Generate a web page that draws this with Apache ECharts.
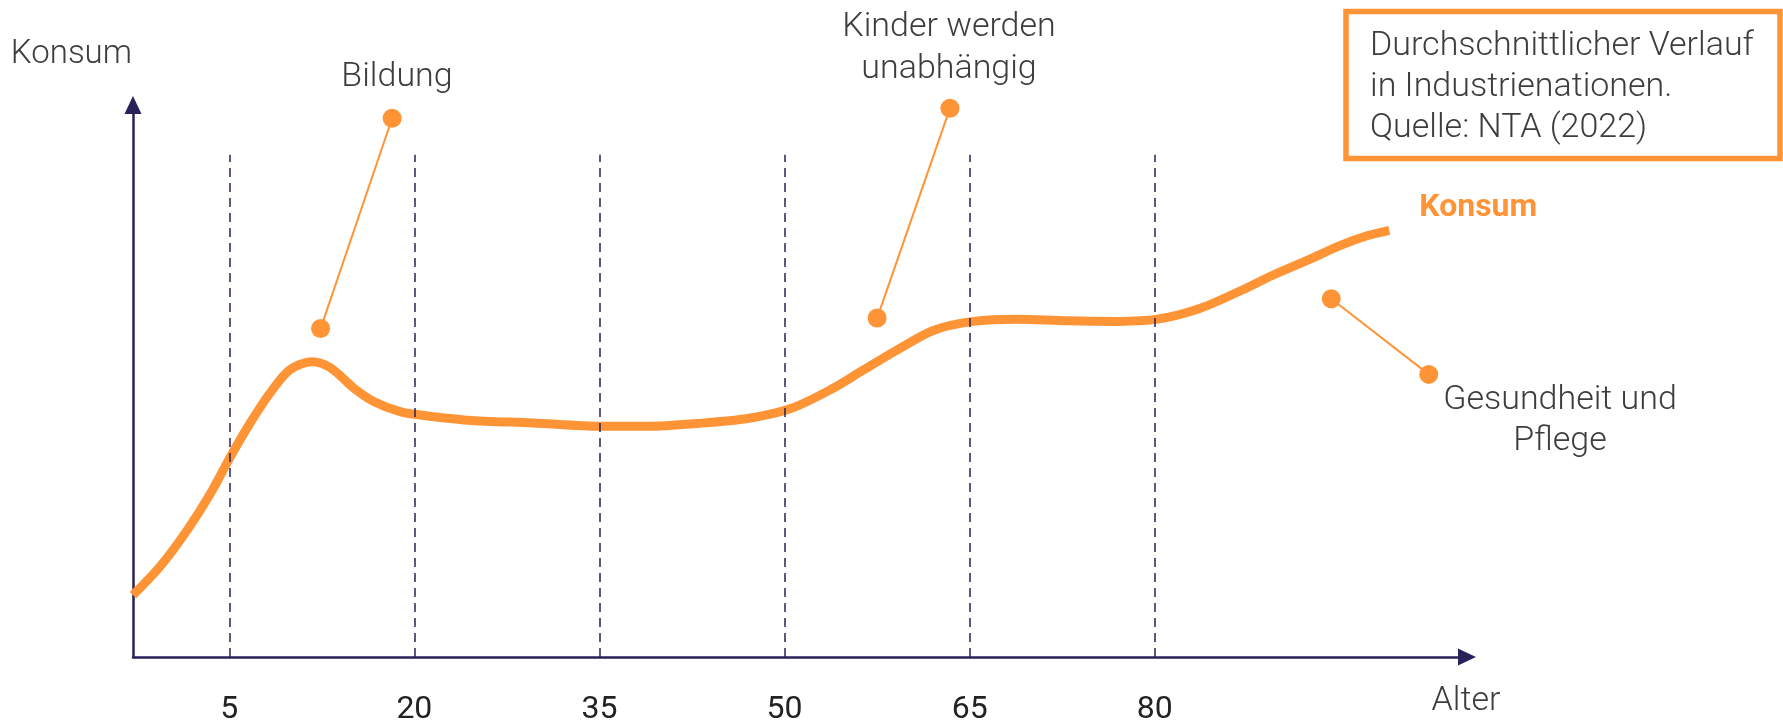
<!DOCTYPE html>
<html lang="de">
<head>
<meta charset="utf-8">
<title>Konsum nach Alter</title>
<script src="https://cdn.jsdelivr.net/npm/echarts@6.0.0/dist/echarts.min.js"></script>
<style>
  html, body { margin: 0; padding: 0; background: #ffffff; }
  #chart { width: 1783px; height: 724px; }
</style>
</head>
<body>
<div id="chart"></div>
<script>
// Lebensalter (Jahre) und Konsumniveau (Index) entlang der Kurve
const ages = [-2.8, -0.6, 1.6, 3.5, 5.1, 6.7, 8.3, 9.9, 11.7, 13.2, 15.1, 16.7, 18.9, 20.6,
  24.3, 29.6, 35.1, 38.9, 42.9, 47.0, 50.5, 53.7, 56.4, 59.1, 62.1, 65.3, 68.8, 72.9,
  77.0, 80.2, 83.7, 87.0, 89.6, 92.4, 95.1, 97.2, 99.0];
const konsum = [11.2, 16.4, 23.0, 29.7, 36.3, 42.4, 47.8, 52.0, 53.5, 52.4, 48.7, 46.3, 44.4, 43.8,
  42.9, 42.4, 41.8, 41.8, 42.3, 43.2, 45.0, 48.4, 52.0, 55.6, 59.2, 60.8, 61.2, 60.9,
  60.8, 61.2, 63.2, 66.4, 69.2, 71.9, 74.6, 76.3, 77.3];

// Altersmarken auf der x-Achse
const ageTicks = [5, 20, 35, 50, 65, 80];
const boundaryHeight = 91;

// Hinweise: Linie vom Text zur Kurve, in Achsenkoordinaten (Alter, Konsum)
const noteBildung = [[18.2, 97.6], [12.4, 59.5]];
const noteKinder = [[63.4, 99.4], [57.5, 61.4]];
const notePflege = [[94.3, 64.9], [102.2, 51.2]];

const ORANGE = '#ff9436';
const NAVY = '#27225a';
const TEXT = '#3d3d3d';
const FONT = 'Roboto, "Noto Sans", sans-serif';

const curve = ages.map((a, i) => [a, konsum[i]]);

function noteSeries(name, pts) {
  return {
    name: name,
    type: 'line',
    data: pts,
    symbol: 'circle',
    symbolSize: 19,
    showSymbol: true,
    silent: true,
    z: 4,
    itemStyle: { color: ORANGE },
    lineStyle: { color: ORANGE, width: 2 }
  };
}

function text(str, x, y, opts) {
  return {
    type: 'text',
    x: x,
    y: y,
    silent: true,
    style: Object.assign({
      text: str,
      fill: TEXT,
      font: '300 34px ' + FONT,
      align: 'center',
      verticalAlign: 'middle',
      lineHeight: 42
    }, opts || {})
  };
}

const chart = echarts.init(document.getElementById('chart'), null, { renderer: 'canvas' });

chart.setOption({
  animation: false,
  backgroundColor: '#ffffff',
  grid: { left: 133, right: 316, top: 105, bottom: 67, outerBoundsMode: 'none' },
  xAxis: {
    type: 'value',
    min: -2.8,
    max: 105.3,
    axisLine: {
      show: true,
      onZero: false,
      symbol: ['none', 'triangle'],
      symbolSize: [17, 18],
      lineStyle: { color: NAVY, width: 2.5 }
    },
    axisTick: { show: false },
    splitLine: { show: false },
    axisLabel: {
      customValues: ageTicks,
      color: '#222222',
      fontSize: 32,
      fontFamily: FONT,
      margin: 37
    }
  },
  yAxis: {
    type: 'value',
    min: 0,
    max: 100,
    axisLine: {
      show: true,
      onZero: false,
      symbol: ['none', 'triangle'],
      symbolSize: [17, 18],
      lineStyle: { color: NAVY, width: 2.5 }
    },
    axisTick: { show: false },
    axisLabel: { show: false },
    splitLine: { show: false }
  },
  series: [
    {
      name: 'Altersgrenzen',
      type: 'line',
      data: [],
      silent: true,
      z: 1,
      markLine: {
        silent: true,
        symbol: 'none',
        label: { show: false },
        lineStyle: { color: NAVY, width: 1.5, type: [9, 6] },
        data: ageTicks.map(a => [{ coord: [a, 0] }, { coord: [a, boundaryHeight] }])
      }
    },
    {
      name: 'Konsum',
      type: 'line',
      data: curve,
      smooth: 0.3,
      showSymbol: false,
      silent: true,
      z: 3,
      lineStyle: { color: ORANGE, width: 9, cap: 'butt' },
      endLabel: {
        show: true,
        formatter: '{a}',
        color: ORANGE,
        fontSize: 32,
        fontWeight: 'bold',
        fontFamily: FONT,
        offset: [22, -22]
      }
    },
    noteSeries('Bildung', noteBildung),
    noteSeries('Kinder werden unabhängig', noteKinder),
    noteSeries('Gesundheit und Pflege', notePflege)
  ],
  graphic: [
    text('Konsum', 132, 55, { align: 'right', font: '300 33px ' + FONT }),
    text('Alter', 1466, 701),
    text('Bildung', 397, 77),
    text('Kinder werden\nunabhängig', 949, 48),
    text('Gesundheit und\nPflege', 1560, 421, { lineHeight: 41 }),
    {
      type: 'rect',
      silent: true,
      shape: { x: 1346, y: 11.5, width: 434, height: 147 },
      style: { fill: '#ffffff', stroke: ORANGE, lineWidth: 5.5 }
    },
    text('Durchschnittlicher Verlauf\nin Industrienationen.\nQuelle: NTA (2022)', 1370, 87, {
      align: 'left',
      font: '300 34px ' + FONT,
      lineHeight: 41
    })
  ]
});
</script>
</body>
</html>
